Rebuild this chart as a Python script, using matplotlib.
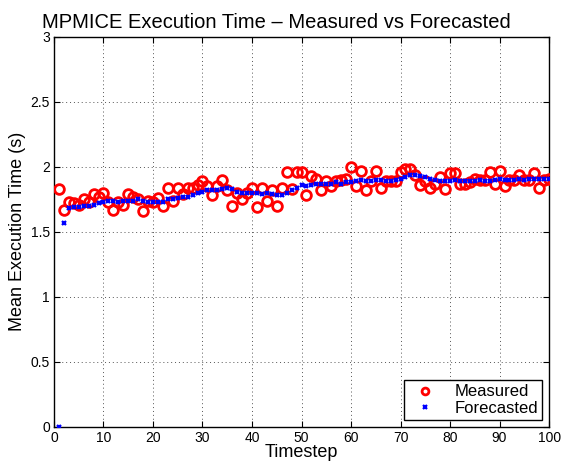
import numpy as np
import matplotlib
matplotlib.use("Agg")
import matplotlib.pyplot as plt

# =================================
# DATA
# =================================

timesteps = list(range(1, 101))

measured = [
    1.83, 1.67, 1.73, 1.72, 1.71, 1.75, 1.73, 1.79, 1.77, 1.80,
    1.73, 1.67, 1.73, 1.71, 1.79, 1.77, 1.75, 1.66, 1.74, 1.73,
    1.76, 1.70, 1.84, 1.74, 1.84, 1.79, 1.84, 1.84, 1.86, 1.89,
    1.85, 1.78, 1.85, 1.90, 1.82, 1.70, 1.80, 1.75, 1.80, 1.84,
    1.69, 1.84, 1.74, 1.82, 1.70, 1.84, 1.96, 1.83, 1.96, 1.96,
    1.78, 1.93, 1.91, 1.82, 1.89, 1.85, 1.89, 1.90, 1.91, 2.00,
    1.85, 1.97, 1.82, 1.89, 1.97, 1.84, 1.89, 1.89, 1.89, 1.96,
    1.98, 1.98, 1.94, 1.86, 1.89, 1.84, 1.87, 1.92, 1.83, 1.95,
    1.95, 1.87, 1.87, 1.88, 1.91, 1.90, 1.90, 1.96, 1.87, 1.97,
    1.85, 1.90, 1.90, 1.94, 1.90, 1.90, 1.95, 1.84, 1.90, 1.91,
]

forecasted = [
    0.00, 1.57, 1.68, 1.69, 1.69, 1.70, 1.70, 1.71, 1.72, 1.73,
    1.74, 1.74, 1.73, 1.74, 1.74, 1.74, 1.75, 1.74, 1.73, 1.73,
    1.73, 1.73, 1.75, 1.75, 1.76, 1.77, 1.77, 1.78, 1.80, 1.81,
    1.82, 1.82, 1.82, 1.83, 1.84, 1.83, 1.81, 1.80, 1.80, 1.80,
    1.80, 1.79, 1.80, 1.79, 1.78, 1.78, 1.80, 1.82, 1.84, 1.86,
    1.85, 1.86, 1.87, 1.87, 1.87, 1.87, 1.88, 1.87, 1.88, 1.88,
    1.89, 1.90, 1.89, 1.89, 1.90, 1.90, 1.89, 1.89, 1.90, 1.91,
    1.92, 1.94, 1.94, 1.93, 1.92, 1.91, 1.90, 1.89, 1.89, 1.89,
    1.90, 1.89, 1.89, 1.89, 1.89, 1.90, 1.89, 1.89, 1.90, 1.91,
    1.90, 1.90, 1.90, 1.91, 1.90, 1.91, 1.91, 1.91, 1.91, 1.91,
]

x_ticks = [0, 10, 20, 30, 40, 50, 60, 70, 80, 90, 100]
y_ticks = [0, 0.5, 1, 1.5, 2, 2.5, 3]
y_tick_labels = ["0", "0.5", "1", "1.5", "2", "2.5", "3"]

# =================================
# CHART
# =================================

plt.rcParams["font.family"] = ["Liberation Sans", "DejaVu Sans"]

fig = plt.figure(figsize=(5.62, 4.66), dpi=100)
ax = fig.add_axes([0.096, 0.084, 0.881, 0.837])

ax.plot(timesteps, measured, linestyle="none", marker="o",
        markersize=7, markerfacecolor="none", markeredgecolor="red",
        markeredgewidth=2.0, label="Measured", zorder=3)
ax.plot(timesteps, forecasted, linestyle="none", marker="x",
        markersize=3.5, color="blue", markeredgewidth=1.6,
        label="Forecasted", zorder=4)

ax.set_xlim(0, 100)
ax.set_ylim(0, 3)
ax.set_xticks(x_ticks)
ax.set_yticks(y_ticks)
ax.set_yticklabels(y_tick_labels)
ax.tick_params(direction="in", top=True, right=True, labelsize=10,
               length=4, width=0.8, pad=3)

ax.grid(True, linestyle=(0, (1, 3)), color="#555555", linewidth=0.7)
for s in ax.spines.values():
    s.set_linewidth(1.0)

# title is centred on the figure, not on the axes
ax.set_title("MPMICE Execution Time \u2013 Measured vs Forecasted",
             fontsize=14.5, pad=6, x=0.45)
ax.set_xlabel("Timestep", fontsize=13, labelpad=-1)
ax.set_ylabel("Mean Execution Time (s)", fontsize=13, labelpad=3)

leg = ax.legend(loc="lower right", fontsize=12, fancybox=False,
                edgecolor="black", framealpha=1, borderaxespad=0.4,
                handletextpad=0.8, borderpad=0.25, labelspacing=0.1,
                markerscale=0.7)
leg.get_frame().set_linewidth(1.0)

fig.savefig("out.png", dpi=100)
print("Chart saved")
